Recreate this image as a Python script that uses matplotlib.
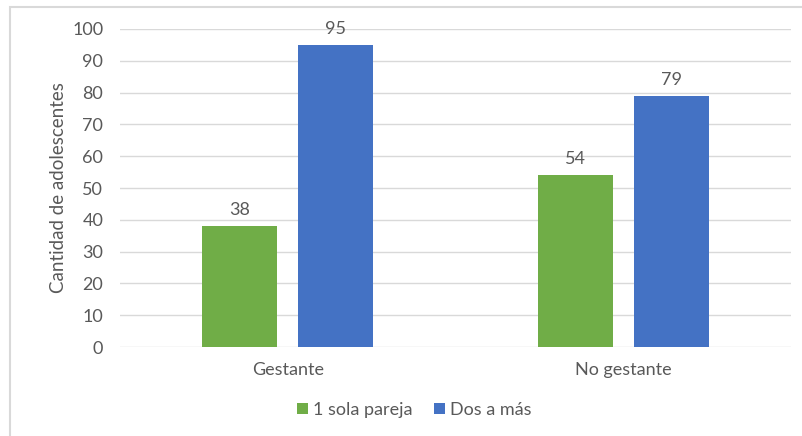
import matplotlib
matplotlib.use("Agg")
import matplotlib.pyplot as plt
import numpy as np
from matplotlib.patches import Rectangle

categories = ["Gestante", "No gestante"]
series_names = ["1 sola pareja", "Dos a más"]
una_pareja = [38, 54]
dos_a_mas = [95, 79]
y_ticks = [0, 10, 20, 30, 40, 50, 60, 70, 80, 90, 100]

plt.rcParams["font.family"] = ["Lato", "DejaVu Sans"]
text_color = "#595959"
green = "#70AD47"
blue = "#4472C4"

fig = plt.figure(figsize=(8.03, 4.36), dpi=100)
ax = fig.add_axes([0.1494, 0.2041, 0.8356, 0.7294])

x = np.arange(len(categories))
width = 0.224
offset = 0.143
bars1 = ax.bar(x - offset, una_pareja, width, color=green, label=series_names[0], zorder=3)
bars2 = ax.bar(x + offset, dos_a_mas, width, color=blue, label=series_names[1], zorder=3)

for bars in (bars1, bars2):
    for b in bars:
        ax.text(b.get_x() + b.get_width() / 2, b.get_height() + 2.5, str(int(b.get_height())),
                ha="center", va="bottom", fontsize=13, color=text_color)

ax.set_xlim(-0.5, 1.5)
ax.set_ylim(0, 100)
ax.set_yticks(y_ticks)
ax.set_xticks(x)
ax.set_xticklabels(categories)
ax.tick_params(axis="both", length=0, labelsize=13, labelcolor=text_color)
ax.tick_params(axis="y", pad=12)
ax.tick_params(axis="x", pad=11)
ax.yaxis.grid(True, color="#D9D9D9", linewidth=1, zorder=0)
for s in ax.spines.values():
    s.set_visible(False)
ax.set_ylabel("Cantidad de adolescentes", fontsize=13.5, color=text_color, labelpad=4)

leg = fig.legend(loc="center", bbox_to_anchor=(0.516, 0.06), ncol=2, frameon=False,
                 fontsize=13, handlelength=0.6, handleheight=0.6, handletextpad=0.3,
                 columnspacing=1.2)
for t in leg.get_texts():
    t.set_color(text_color)

# chart border (cropped at right and bottom in the source)
fig.patches.append(Rectangle((0.0125, -0.05), 1.1, 1.034, transform=fig.transFigure,
                             fill=False, edgecolor="#D9D9D9", linewidth=1.5))

fig.savefig("out.png", dpi=100)
